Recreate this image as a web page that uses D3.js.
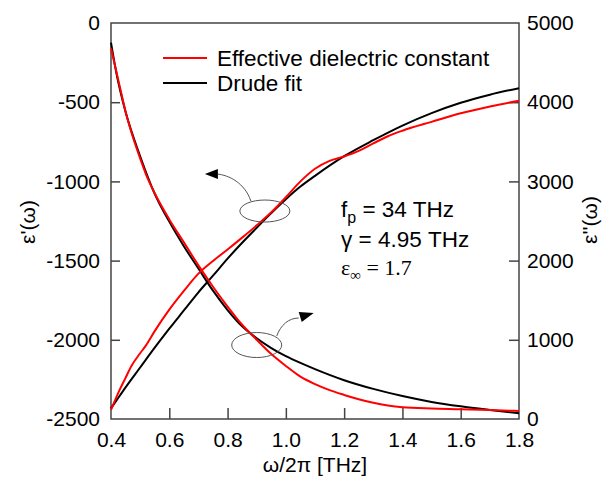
<!DOCTYPE html>
<html>
<head>
<meta charset="utf-8">
<script src="https://cdn.jsdelivr.net/npm/d3@7"></script>
<style>
  body { margin: 0; background: #fff; }
  text { font-family: "Liberation Sans", Arial, sans-serif; fill: #000; }
</style>
</head>
<body>
<svg id="chart" width="607" height="480"></svg>
<script>
// measured effective permittivity (red)
const freqMeas = [0.40, 0.43, 0.45, 0.47, 0.50, 0.52, 0.55, 0.60, 0.65, 0.70, 0.75, 0.80, 0.85, 0.90,
  0.95, 1.00, 1.05, 1.10, 1.15, 1.20, 1.25, 1.30, 1.35, 1.40, 1.50, 1.60, 1.70, 1.80];
const realMeas = [-160, -400, -560, -690, -855, -955, -1075, -1240, -1385, -1530, -1665, -1790, -1905, -2000,
  -2090, -2165, -2233, -2280, -2318, -2348, -2375, -2398, -2415, -2426, -2434, -2438, -2443, -2450];
const imagMeas = [114, 370, 520, 670, 830, 930, 1110, 1380, 1617, 1835, 1995, 2140, 2290, 2445,
  2610, 2800, 3000, 3160, 3260, 3315, 3385, 3480, 3570, 3640, 3752, 3860, 3945, 4019];

// Drude fit (black)
const freqFit = [0.40, 0.42, 0.45, 0.50, 0.55, 0.60, 0.65, 0.70, 0.75, 0.80, 0.85, 0.90, 0.95, 1.00,
  1.05, 1.10, 1.20, 1.30, 1.40, 1.50, 1.60, 1.70, 1.80];
const realFit = [-124, -330, -561, -841, -1078, -1254, -1409, -1550, -1690, -1812, -1915, -1990, -2052, -2103,
  -2146, -2185, -2255, -2310, -2355, -2392, -2420, -2443, -2464];
const imagFit = [135, 241, 400, 650, 900, 1140, 1370, 1600, 1810, 2025, 2225, 2415, 2600, 2775,
  2935, 3070, 3318, 3520, 3705, 3862, 3993, 4095, 4177];

const xTicks = [0.4, 0.6, 0.8, 1.0, 1.2, 1.4, 1.6, 1.8];
const leftTicks = [0, -500, -1000, -1500, -2000, -2500];
const rightTicks = [0, 1000, 2000, 3000, 4000, 5000];

const svg = d3.select('#chart');
const m = { left: 111, right: 519, top: 23, bottom: 419 };

const x = d3.scaleLinear().domain([0.4, 1.8]).range([m.left, m.right]);
const yL = d3.scaleLinear().domain([-2500, 0]).range([m.bottom, m.top]);
const yR = d3.scaleLinear().domain([0, 5000]).range([m.bottom, m.top]);

const axisColor = '#444';

// frame
svg.append('rect')
  .attr('x', m.left).attr('y', m.top)
  .attr('width', m.right - m.left).attr('height', m.bottom - m.top)
  .attr('fill', 'none').attr('stroke', axisColor).attr('stroke-width', 1.5);

// axes, ticks pointing inward
const gx = svg.append('g').attr('transform', `translate(0,${m.bottom})`)
  .call(d3.axisBottom(x).tickValues(xTicks).tickFormat(d3.format('.1f')).tickSizeInner(-11).tickSizeOuter(0).tickPadding(16));
const gl = svg.append('g').attr('transform', `translate(${m.left},0)`)
  .call(d3.axisLeft(yL).tickValues(leftTicks).tickFormat(d => d).tickSizeInner(-9).tickSizeOuter(0).tickPadding(11));
const gr = svg.append('g').attr('transform', `translate(${m.right},0)`)
  .call(d3.axisRight(yR).tickValues(rightTicks).tickFormat(d => d).tickSizeInner(-10).tickSizeOuter(0).tickPadding(8));

[gx, gl, gr].forEach(g => {
  g.select('.domain').remove();
  g.selectAll('line').attr('stroke', axisColor).attr('stroke-width', 1.5);
  g.selectAll('text').attr('font-size', 21).attr('fill', '#000');
});
gx.selectAll('text').attr('dy', '0.55em');
// the end tick labels sit on the frame corners
gl.selectAll('.tick').filter(d => d === 0 || d === -2500).select('line').remove();
gr.selectAll('.tick').filter(d => d === 0 || d === 5000).select('line').remove();
gx.selectAll('.tick').filter(d => d === 0.4 || d === 1.8).select('line').remove();

// curves
const lineOf = (fs, vs, scale) => d3.line()
  .x((d, i) => x(fs[i])).y(d => scale(d))
  .curve(d3.curveMonotoneX)(vs);

const curves = svg.append('g').attr('fill', 'none').attr('stroke-width', 2);
curves.append('path').attr('d', lineOf(freqFit, realFit, yL)).attr('stroke', '#000');
curves.append('path').attr('d', lineOf(freqFit, imagFit, yR)).attr('stroke', '#000');
curves.append('path').attr('d', lineOf(freqMeas, realMeas, yL)).attr('stroke', '#ff0000');
curves.append('path').attr('d', lineOf(freqMeas, imagMeas, yR)).attr('stroke', '#ff0000');

// legend
const legend = svg.append('g');
[['Effective dielectric constant', '#ff0000', 58], ['Drude fit', '#000', 83]].forEach(([label, color, ly]) => {
  legend.append('line').attr('x1', 163).attr('x2', 207).attr('y1', ly).attr('y2', ly)
    .attr('stroke', color).attr('stroke-width', 2);
  legend.append('text').attr('x', 217).attr('y', ly).attr('dy', '0.36em')
    .attr('font-size', 22.5).text(label);
});

// fit parameters
const par = svg.append('g').attr('font-size', 22.5);
const t1 = par.append('text').attr('x', 341).attr('y', 217);
t1.append('tspan').text('f');
t1.append('tspan').attr('dy', 6).attr('font-size', 16).text('p');
t1.append('tspan').attr('dy', -6).text(' = 34 THz');
par.append('text').attr('x', 341).attr('y', 247).text('γ = 4.95 THz');
const t3 = par.append('text').attr('x', 341).attr('y', 275)
  .style('font-family', '"Liberation Serif", "Times New Roman", serif').attr('font-size', 22);
t3.append('tspan').text('ε');
t3.append('tspan').attr('dy', 5).attr('font-size', 15).text('∞');
t3.append('tspan').attr('dy', -5).text(' = 1.7');

// ellipses and arrows marking which axis each curve pair uses
const ann = svg.append('g').attr('fill', 'none').attr('stroke', '#555').attr('stroke-width', 1);
const e1 = [x(0.928), yR(2626)];
const e2 = [x(0.90), yL(-2033)];
ann.append('ellipse').attr('cx', e1[0]).attr('cy', e1[1]).attr('rx', 25).attr('ry', 11);
ann.append('ellipse').attr('cx', e2[0]).attr('cy', e2[1]).attr('rx', 25).attr('ry', 12.5);
ann.append('path').attr('d', `M${e1[0] - 14},${e1[1] - 10} C${e1[0] - 20},${e1[1] - 28} ${e1[0] - 36},${e1[1] - 36} ${e1[0] - 48},${e1[1] - 37}`);
ann.append('path').attr('d', `M${e2[0] + 20},${e2[1] - 9} C${e2[0] + 24},${e2[1] - 20} ${e2[0] + 32},${e2[1] - 27} ${e2[0] + 42},${e2[1] - 27}`);

const heads = svg.append('g').attr('fill', '#000');
// left-pointing head
heads.append('path').attr('d', `M${e1[0] - 60},${e1[1] - 37} L${e1[0] - 47},${e1[1] - 42} L${e1[0] - 47},${e1[1] - 32} Z`);
// right-pointing head
heads.append('path').attr('d', `M${e2[0] + 57},${e2[1] - 32} L${e2[0] + 42},${e2[1] - 33} L${e2[0] + 45},${e2[1] - 23} Z`);

// axis titles
svg.append('text').attr('x', 315).attr('y', 472).attr('text-anchor', 'middle')
  .attr('font-size', 21).text('ω/2π [THz]');
svg.append('text').attr('transform', 'translate(35,222) rotate(-90)').attr('text-anchor', 'middle')
  .attr('font-size', 21).text("ε'(ω)");
svg.append('text').attr('transform', 'translate(597,220) rotate(-90)').attr('text-anchor', 'middle')
  .attr('font-size', 21).text("ε''(ω)");
</script>
</body>
</html>
